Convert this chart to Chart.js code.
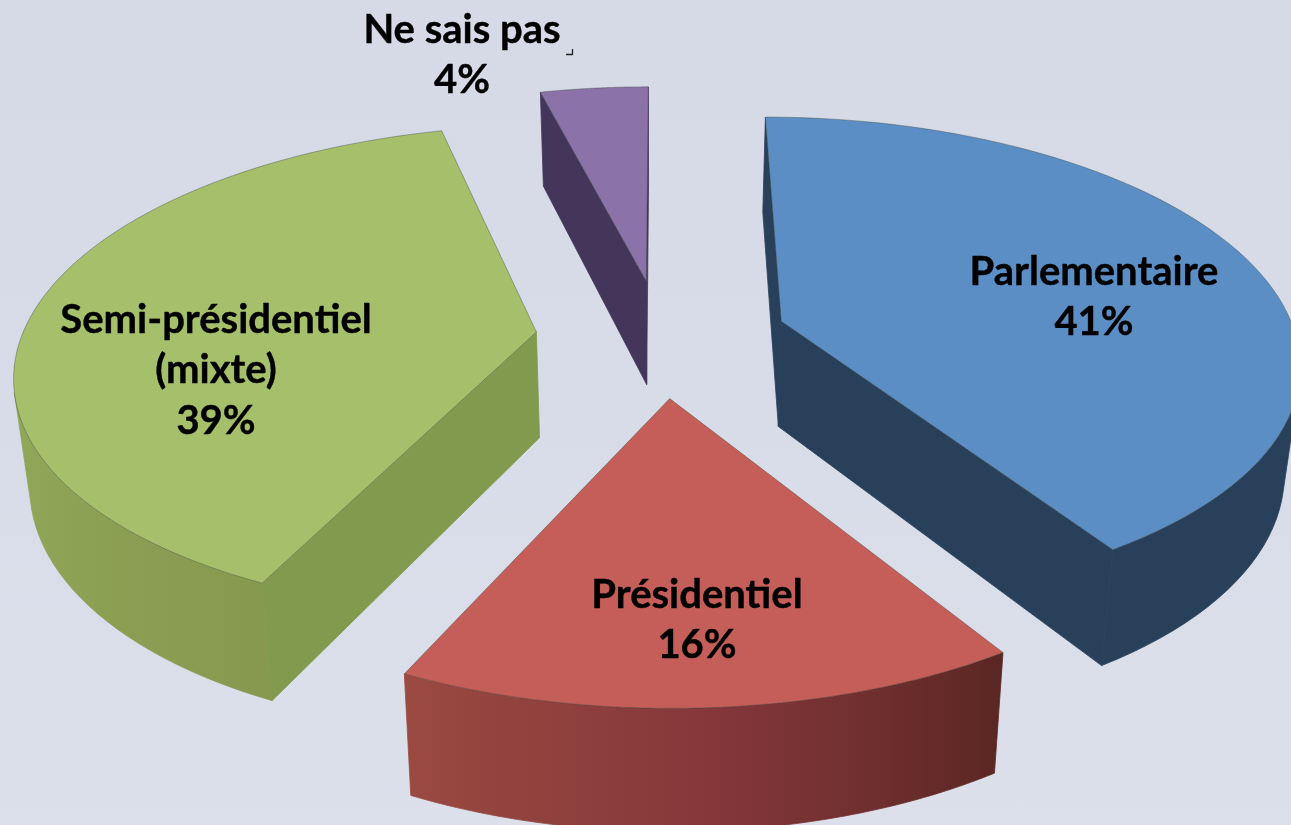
<!DOCTYPE html>
<html lang="fr">
<head>
<meta charset="utf-8">
<title>Régime</title>
<script src="https://cdn.jsdelivr.net/npm/chart.js@4"></script>
<style>
html,body{margin:0;padding:0;width:1291px;height:825px;overflow:hidden;background:linear-gradient(180deg,#d5dae6 0%,#d8dce8 50%,#dce0eb 100%);}
canvas{display:block;}
</style>
</head>
<body>
<canvas id="c" width="1291" height="825"></canvas>
<script>
const categories = ["Parlementaire", "Présidentiel", "Semi-présidentiel (mixte)", "Ne sais pas"];
const values = [41, 16, 39, 4];
const labelLines = [["Parlementaire", "41%"], ["Présidentiel", "16%"], ["Semi-présidentiel", "(mixte)", "39%"], ["Ne sais pas", "4%"]];
const labelCentres = [[1094, 272], [697, 595], [216, 320], [462, 30]];
const topColours = ["#5b8ec4", "#c55e58", "#a6bf6b", "#8b72a9"];
const wallColours = ["#28405a", "#7a3030", "#829a4e", "#44365a"];
const rimStart = [[40,64,90], [90,39,34], [135,153,79], [68,54,90]];
const rimMiddle = [[40,64,90], [133,55,58], [150,175,93], [68,54,90]];
const rimEnd = [[40,64,90], [154,74,64], [150,175,93], [68,54,90]];

// view of the pie plane: a single camera for the whole chart
const view = {cx: 661.5, cy: 337.5, sx: 515, sy: 240.5, persp: 0.155, depth: 106, depthPow: 0.7, shrink: 0.975};

function project(X, Y, lower) {
  const w = 1 - view.persp * Y;
  let x = view.cx + view.sx * X / w;
  let y = view.cy + view.sy * Y / w;
  if (lower) {
    x = view.cx + (x - view.cx) * view.shrink;
    y += view.depth / Math.pow(w, view.depthPow);
  }
  return [x, y];
}
function area(q) {
  let s = 0;
  for (let i = 0; i < q.length; i++) {
    const a = q[i], b = q[(i + 1) % q.length];
    s += a[0] * b[1] - b[0] * a[1];
  }
  return s;
}
function poly(ctx, q, fill, stroke, lw) {
  ctx.beginPath();
  q.forEach((p, i) => i ? ctx.lineTo(p[0], p[1]) : ctx.moveTo(p[0], p[1]));
  ctx.closePath();
  ctx.fillStyle = fill;
  ctx.fill();
  ctx.strokeStyle = stroke || fill;
  ctx.lineWidth = lw || 0.8;
  ctx.stroke();
}
function mix(a, b, t) {
  return "rgb(" + a.map((v, i) => Math.round(v + (b[i] - v) * t)).join(",") + ")";
}
function rimColour(i, t) {
  return t < 0.5 ? mix(rimStart[i], rimMiddle[i], t * 2) : mix(rimMiddle[i], rimEnd[i], (t - 0.5) * 2);
}

const pie3d = {
  id: "pie3d",
  beforeDatasetsDraw(chart) {
    const ctx = chart.ctx;
    const arcs = chart.getDatasetMeta(0).data;
    arcs.forEach((arc, i) => {
      const R = arc.outerRadius;
      const d = arc.options.offset / R;
      const mid = (arc.startAngle + arc.endAngle) / 2;
      const ox = d * Math.cos(mid), oy = d * Math.sin(mid);
      const N = 72, up = [], low = [];
      for (let k = 0; k <= N; k++) {
        const phi = arc.startAngle + (arc.endAngle - arc.startAngle) * k / N;
        const X = ox + Math.cos(phi), Y = oy + Math.sin(phi);
        up.push(project(X, Y, false));
        low.push(project(X, Y, true));
      }
      const A = project(ox, oy, false), B = project(ox, oy, true);
      // outer rim: the part of the arc that faces the viewer, as one shape
      let k0 = -1, k1 = -1;
      for (let k = 0; k < N; k++) {
        if (area([up[k], up[k + 1], low[k + 1], low[k]]) < 0) {
          if (k0 < 0) k0 = k;
          k1 = k + 1;
        }
      }
      if (k0 >= 0) {
        const x0 = up[k0][0], x1 = up[k1][0];
        const g = ctx.createLinearGradient(x0, 0, x1, 0);
        for (let s = 0; s <= 8; s++) {
          const k = Math.round(k0 + (k1 - k0) * s / 8);
          const pos = (up[k][0] - x0) / (x1 - x0);
          g.addColorStop(Math.min(1, Math.max(0, pos)), rimColour(i, k / N));
        }
        const shape = up.slice(k0, k1 + 1).concat(low.slice(k0, k1 + 1).reverse());
        poly(ctx, shape, g);
      }
      // cut faces
      const f1 = [A, up[0], low[0], B];
      const f2 = [A, up[N], low[N], B];
      if (area(f1) < 0) poly(ctx, f1, wallColours[i]);
      if (area(f2) > 0) poly(ctx, f2, wallColours[i]);
      // top face
      poly(ctx, [A].concat(up), topColours[i], "rgba(60,70,60,0.5)", 0.8);
    });
    return false;
  },
  afterDraw(chart) {
    const ctx = chart.ctx;
    ctx.save();
    ctx.fillStyle = "#000";
    ctx.strokeStyle = "#000";
    ctx.lineWidth = 0.4;
    ctx.lineJoin = "round";
    ctx.textAlign = "center";
    ctx.textBaseline = "middle";
    ctx.font = "bold 40px Lato";
    labelLines.forEach((lines, i) => {
      lines.forEach((t, j) => {
        const x = labelCentres[i][0], y = labelCentres[i][1] + j * 50.5;
        ctx.fillText(t, x, y);
        ctx.strokeText(t, x, y);
      });
    });
    ctx.strokeStyle = "#222";
    ctx.lineWidth = 1.3;
    ctx.beginPath();
    ctx.moveTo(566, 54.5);
    ctx.lineTo(572.5, 54.5);
    ctx.lineTo(572.5, 49);
    ctx.stroke();
    ctx.restore();
  }
};

new Chart(document.getElementById("c"), {
  type: "pie",
  data: {
    labels: categories,
    datasets: [{data: values, backgroundColor: topColours, offset: 90, borderWidth: 0}]
  },
  options: {
    responsive: false,
    animation: false,
    layout: {padding: 0},
    plugins: {legend: {display: false}, tooltip: {enabled: false}}
  },
  plugins: [pie3d]
});
</script>
</body>
</html>
